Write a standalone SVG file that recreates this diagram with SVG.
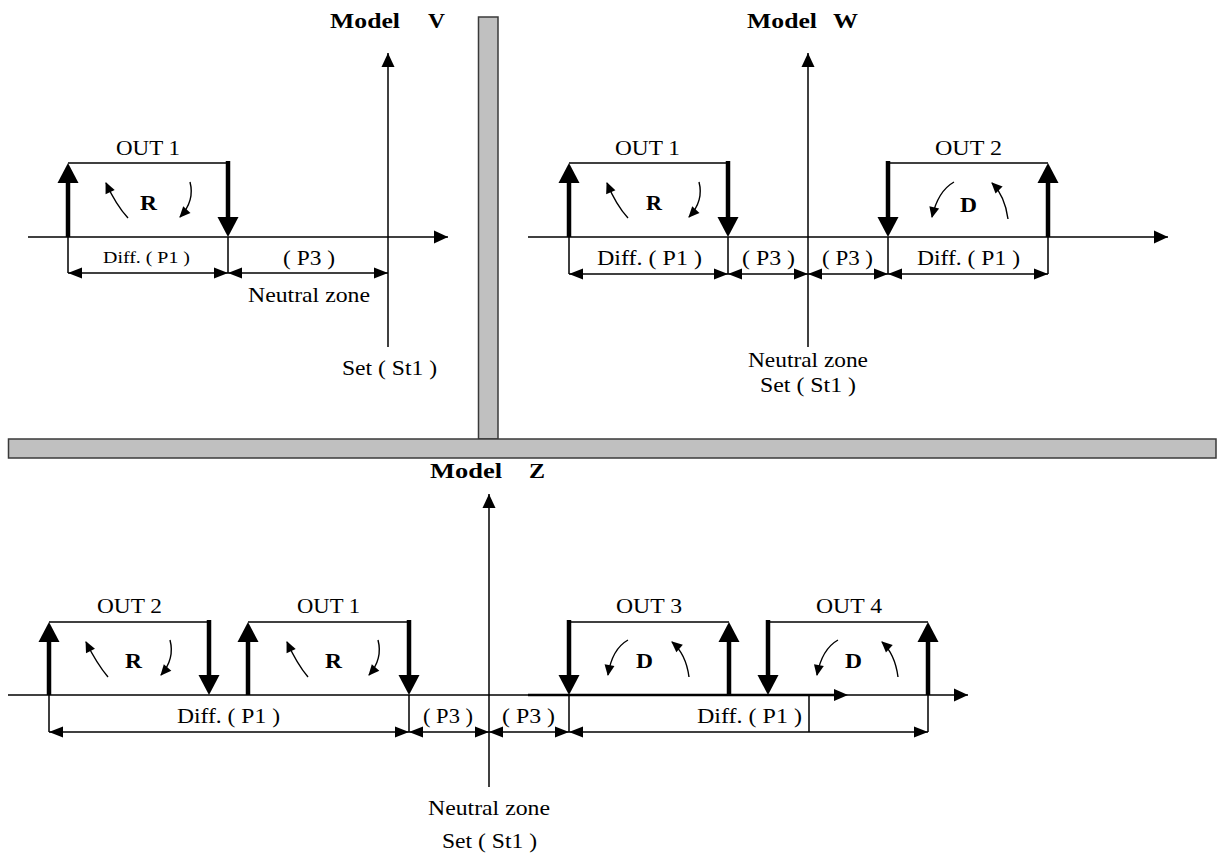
<svg xmlns="http://www.w3.org/2000/svg" width="1219" height="855" viewBox="0 0 1219 855">
<style>
.t{font-family:"Liberation Serif","Times New Roman",serif;font-size:21px;fill:#000}
.b{font-family:"Liberation Serif","Times New Roman",serif;font-size:22px;font-weight:bold;fill:#000}
.ax{stroke:#000;stroke-width:1.5;fill:none}
.thin{stroke:#000;stroke-width:1.5;fill:none}
.thick{stroke:#000;stroke-width:4.5;fill:none;marker-end:url(#ah-thick)}
.dim{stroke:#000;stroke-width:1.5;fill:none;marker-start:url(#ah-dim);marker-end:url(#ah-dim)}
.cur{stroke:#000;stroke-width:1.4;fill:none;marker-end:url(#ah-cur)}
.bar{fill:#c0c0c0;stroke:#3a3a3a;stroke-width:1.5}
</style>
<defs>
<marker id="ah-axis" markerUnits="userSpaceOnUse" markerWidth="14" markerHeight="13" refX="14" refY="6.5" orient="auto" overflow="visible"><path d="M0,0 L14,6.5 L0,13 z" fill="#000"/></marker>
<marker id="ah-thick" markerUnits="userSpaceOnUse" markerWidth="20" markerHeight="21" refX="0" refY="10.5" orient="auto" overflow="visible"><path d="M0,0 L20,10.5 L0,21 z" fill="#000"/></marker>
<marker id="ah-dim" markerUnits="userSpaceOnUse" markerWidth="14" markerHeight="11" refX="14" refY="5.5" orient="auto-start-reverse" overflow="visible"><path d="M0,0 L14,5.5 L0,11 z" fill="#000"/></marker>
<marker id="ah-cur" markerUnits="userSpaceOnUse" markerWidth="11" markerHeight="10" refX="10" refY="5" orient="auto" overflow="visible"><path d="M0,0 L11,5 L0,10 z" fill="#000"/></marker>
</defs>
<rect width="1219" height="855" fill="#fff"/>

<g id="separators">
<rect class="bar" x="478.5" y="17" width="19.5" height="422"/>
<rect class="bar" x="8.5" y="439" width="1207.5" height="19"/>
</g>

<!-- Model V -->
<g id="panel-v">
<g id="v-title"><text class="b" x="330" y="28" textLength="70" lengthAdjust="spacingAndGlyphs">Model</text><text class="b" x="428" y="28" textLength="17" lengthAdjust="spacingAndGlyphs">V</text></g>
<g id="v-out1">
<path class="thin" d="M68,163 H228"/>
<path class="thick" d="M68,237 V183"/>
<path class="thick" d="M228,161 V217"/>
<path class="cur" d="M128,218 Q116,205 106,183"/>
<path class="cur" d="M190,182 Q195,201 180,217"/>
<text class="t" x="116" y="155" textLength="64" lengthAdjust="spacingAndGlyphs">OUT 1</text>
<text class="b" x="140" y="210" textLength="17" lengthAdjust="spacingAndGlyphs">R</text>
</g>
<g id="v-connectors">
<path class="ax" d="M28,237 H448" marker-end="url(#ah-axis)"/>
<path class="ax" d="M388,347 V53" marker-end="url(#ah-axis)"/>
<path class="thin" d="M68,237 V273 M228,237 V273"/>
<path class="dim" d="M68,273 H228"/>
<path class="dim" d="M228,273 H388"/>
</g>
<g id="v-labels">
<text class="t" x="103" y="263" style="font-size:17.5px" textLength="87" lengthAdjust="spacingAndGlyphs">Diff. ( P1 )</text>
<text class="t" x="283" y="265" textLength="52" lengthAdjust="spacingAndGlyphs">( P3 )</text>
<text class="t" x="248" y="302" textLength="122" lengthAdjust="spacingAndGlyphs">Neutral zone</text>
<text class="t" x="342" y="375" textLength="95" lengthAdjust="spacingAndGlyphs">Set ( St1 )</text>
</g>
</g>

<!-- Model W -->
<g id="panel-w">
<g id="w-title"><text class="b" x="747" y="28" textLength="70" lengthAdjust="spacingAndGlyphs">Model</text><text class="b" x="833" y="28" textLength="25" lengthAdjust="spacingAndGlyphs">W</text></g>
<g id="w-out1">
<path class="thin" d="M569,163 H728"/>
<path class="thick" d="M569,237 V183"/>
<path class="thick" d="M728,161 V217"/>
<path class="cur" d="M628,218 Q616,205 607,183"/>
<path class="cur" d="M699,182 Q704,201 689,217"/>
<text class="t" x="615" y="155" textLength="65" lengthAdjust="spacingAndGlyphs">OUT 1</text>
<text class="b" x="646" y="210" textLength="16" lengthAdjust="spacingAndGlyphs">R</text>
</g>
<g id="w-out2">
<path class="thin" d="M888,163 H1048"/>
<path class="thick" d="M888,161 V217"/>
<path class="thick" d="M1048,237 V183"/>
<path class="cur" d="M954,182 Q938,191 932,217"/>
<path class="cur" d="M1008,219 Q1005,196 992,183"/>
<text class="t" x="935" y="155" textLength="67" lengthAdjust="spacingAndGlyphs">OUT 2</text>
<text class="b" x="960" y="212" textLength="17" lengthAdjust="spacingAndGlyphs">D</text>
</g>
<g id="w-connectors">
<path class="ax" d="M528,237 H1168" marker-end="url(#ah-axis)"/>
<path class="ax" d="M808,347 V53" marker-end="url(#ah-axis)"/>
<path class="thin" d="M569,237 V274 M728,237 V274 M888,237 V274 M1048,237 V274"/>
<path class="dim" d="M569,274 H728"/>
<path class="dim" d="M728,274 H808"/>
<path class="dim" d="M808,274 H888"/>
<path class="dim" d="M888,274 H1048"/>
</g>
<g id="w-labels">
<text class="t" x="597" y="265" textLength="105" lengthAdjust="spacingAndGlyphs">Diff. ( P1 )</text>
<text class="t" x="742" y="265" textLength="53" lengthAdjust="spacingAndGlyphs">( P3 )</text>
<text class="t" x="822" y="265" textLength="51" lengthAdjust="spacingAndGlyphs">( P3 )</text>
<text class="t" x="917" y="265" textLength="103" lengthAdjust="spacingAndGlyphs">Diff. ( P1 )</text>
<text class="t" x="748" y="367" textLength="120" lengthAdjust="spacingAndGlyphs">Neutral zone</text>
<text class="t" x="760" y="392" textLength="96" lengthAdjust="spacingAndGlyphs">Set ( St1 )</text>
</g>
</g>

<!-- Model Z -->
<g id="panel-z">
<g id="z-title"><text class="b" x="430" y="478" textLength="72" lengthAdjust="spacingAndGlyphs">Model</text><text class="b" x="529" y="478" textLength="16" lengthAdjust="spacingAndGlyphs">Z</text></g>
<g id="z-out2">
<path class="thin" d="M49,622 H209"/>
<path class="thick" d="M49,695 V642"/>
<path class="thick" d="M209,620 V675"/>
<path class="cur" d="M108,677 Q97,664 86,642"/>
<path class="cur" d="M170,640 Q175,659 161,675"/>
<text class="t" x="97" y="613" textLength="65" lengthAdjust="spacingAndGlyphs">OUT 2</text>
<text class="b" x="125" y="668" textLength="17" lengthAdjust="spacingAndGlyphs">R</text>
</g>
<g id="z-out1">
<path class="thin" d="M248,622 H409"/>
<path class="thick" d="M248,695 V642"/>
<path class="thick" d="M409,620 V675"/>
<path class="cur" d="M308,677 Q297,664 287,642"/>
<path class="cur" d="M378,640 Q383,659 369,675"/>
<text class="t" x="297" y="613" textLength="63" lengthAdjust="spacingAndGlyphs">OUT 1</text>
<text class="b" x="325" y="668" textLength="17" lengthAdjust="spacingAndGlyphs">R</text>
</g>
<g id="z-out3">
<path class="thin" d="M569,622 H729"/>
<path class="thick" d="M569,620 V675"/>
<path class="thick" d="M729,695 V642"/>
<path class="cur" d="M628,640 Q612,649 608,675"/>
<path class="cur" d="M689,677 Q686,654 672,642"/>
<text class="t" x="616" y="613" textLength="66" lengthAdjust="spacingAndGlyphs">OUT 3</text>
<text class="b" x="636" y="668" textLength="17" lengthAdjust="spacingAndGlyphs">D</text>
</g>
<g id="z-out4">
<path class="thin" d="M768,622 H928"/>
<path class="thick" d="M768,620 V675"/>
<path class="thick" d="M928,695 V642"/>
<path class="cur" d="M838,640 Q822,649 817,675"/>
<path class="cur" d="M898,677 Q895,654 882,642"/>
<text class="t" x="816" y="613" textLength="66" lengthAdjust="spacingAndGlyphs">OUT 4</text>
<text class="b" x="845" y="668" textLength="17" lengthAdjust="spacingAndGlyphs">D</text>
</g>
<g id="z-connectors">
<path class="ax" d="M8,695 H968" marker-end="url(#ah-axis)"/>
<path d="M528,695 H835" stroke="#000" stroke-width="2.4" fill="none"/>
<path d="M834,689 L848,695 L834,701 z" fill="#000"/>
<path class="ax" d="M489,787 V494" marker-end="url(#ah-axis)"/>
<path class="thin" d="M49,695 V732 M409,695 V732 M569,695 V732 M809,695 V732 M928,695 V732"/>
<path class="dim" d="M49,732 H409"/>
<path class="dim" d="M409,732 H489"/>
<path class="dim" d="M489,732 H569"/>
<path class="dim" d="M569,732 H928"/>
</g>
<g id="z-labels">
<text class="t" x="177" y="723" textLength="103" lengthAdjust="spacingAndGlyphs">Diff. ( P1 )</text>
<text class="t" x="423" y="723" textLength="50" lengthAdjust="spacingAndGlyphs">( P3 )</text>
<text class="t" x="502" y="723" textLength="53" lengthAdjust="spacingAndGlyphs">( P3 )</text>
<text class="t" x="697" y="723" textLength="105" lengthAdjust="spacingAndGlyphs">Diff. ( P1 )</text>
<text class="t" x="428" y="815" textLength="122" lengthAdjust="spacingAndGlyphs">Neutral zone</text>
<text class="t" x="442" y="848" textLength="95" lengthAdjust="spacingAndGlyphs">Set ( St1 )</text>
</g>
</g>
</svg>
